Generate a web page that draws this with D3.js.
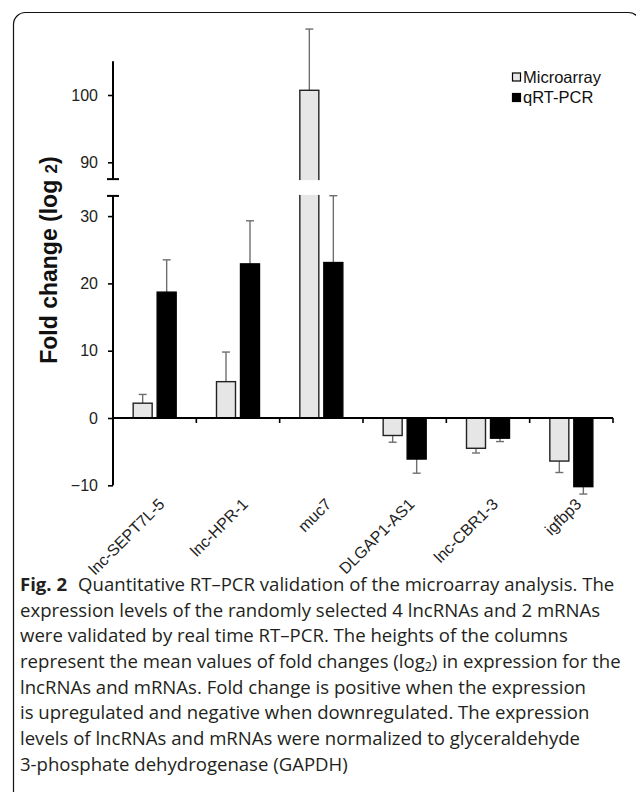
<!DOCTYPE html>
<html>
<head>
<meta charset="utf-8">
<script src="https://cdn.jsdelivr.net/npm/d3@7"></script>
<style>
  html, body { margin: 0; padding: 0; background: #fff; }
  svg { display: block; }
</style>
</head>
<body>
<div id="chart"></div>
<script>
const categories = ["lnc-SEPT7L-5", "lnc-HPR-1", "muc7", "DLGAP1-AS1", "lnc-CBR1-3", "igfbp3"];
const seriesNames = ["Microarray", "qRT-PCR"];
const microarray = [2.2, 5.4, 100.7, -2.6, -4.5, -6.4];
const microarrayErr = [1.3, 4.4, 9.1, 1.0, 0.7, 1.7];
const qrtpcr = [18.7, 22.9, 23.1, -6.1, -3.0, -10.2];
const qrtpcrErr = [4.8, 6.4, 10.5, 2.1, 0.5, 1.1];
const yTicks = [-10, 0, 10, 20, 30, 90, 100];
const lowerDomain = [-10, 33];
const upperDomain = [87.5, 105];

const captionLines = [
  "Quantitative RT\u2013PCR validation of the microarray analysis. The",
  "expression levels of the randomly selected 4 lncRNAs and 2 mRNAs",
  "were validated by real time RT\u2013PCR. The heights of the columns",
  "represent the mean values of fold changes (log|2|) in expression for the",
  "lncRNAs and mRNAs. Fold change is positive when the expression",
  "is upregulated and negative when downregulated. The expression",
  "levels of lncRNAs and mRNAs were normalized to glyceraldehyde",
  "3-phosphate dehydrogenase (GAPDH)",
];

const width = 636;
const height = 792;
const chartFont = "'Liberation Sans', Arial, sans-serif";

const svg = d3.select("#chart")
  .append("svg")
  .attr("width", width)
  .attr("height", height);

// frame with rounded top corners, open at the bottom
svg.append("rect")
  .attr("x", 13.5).attr("y", 12.5)
  .attr("width", 627).attr("height", 820)
  .attr("rx", 12)
  .attr("fill", "none")
  .attr("stroke", "#111")
  .attr("stroke-width", 1.2);

const left = 113;
const right = 613;
const unit = 6.73;
const zeroY = 418;
const upper100 = 95;

// broken axis: one piecewise scale, gap between the two segments
const y = d3.scaleLinear()
  .domain([lowerDomain[0], lowerDomain[1], upperDomain[0], upperDomain[1]])
  .range([
    zeroY - lowerDomain[0] * unit,
    zeroY - lowerDomain[1] * unit,
    upper100 + (100 - upperDomain[0]) * unit,
    upper100 - (upperDomain[1] - 100) * unit,
  ]);

const x = d3.scaleBand().domain(categories).range([left, right]).padding(0);
const inner = d3.scaleBand().domain(seriesNames).range([-21.5, 21.5]).paddingInner(0.2083);

const rows = categories.map((c, i) => ({
  cat: c,
  bars: [
    { key: "Microarray", value: microarray[i], err: microarrayErr[i] },
    { key: "qRT-PCR", value: qrtpcr[i], err: qrtpcrErr[i] },
  ],
}));

const groups = svg.append("g")
  .selectAll("g")
  .data(rows)
  .join("g")
  .attr("transform", (d) => `translate(${x(d.cat) + x.bandwidth() / 2},0)`);

const bars = groups.selectAll("g.bar")
  .data((d) => d.bars)
  .join("g")
  .attr("class", "bar");

const errEnd = (d) => y(d.value + Math.sign(d.value) * d.err);
const mid = (d) => inner(d.key) + inner.bandwidth() / 2;

// error bars (one side, away from zero)
bars.append("line")
  .attr("x1", mid).attr("x2", mid)
  .attr("y1", (d) => y(d.value))
  .attr("y2", errEnd)
  .attr("stroke", "#6f6f6f")
  .attr("stroke-width", 1.4);

bars.append("line")
  .attr("x1", (d) => mid(d) - 4)
  .attr("x2", (d) => mid(d) + 4)
  .attr("y1", errEnd)
  .attr("y2", errEnd)
  .attr("stroke", "#6f6f6f")
  .attr("stroke-width", 1.4);

bars.append("rect")
  .attr("x", (d) => inner(d.key))
  .attr("width", inner.bandwidth())
  .attr("y", (d) => y(Math.max(0, d.value)))
  .attr("height", (d) => Math.abs(y(d.value) - y(0)))
  .attr("fill", (d) => (d.key === "Microarray" ? "#e6e6e6" : "#000"))
  .attr("stroke", (d) => (d.key === "Microarray" ? "#222" : "#000"))
  .attr("stroke-width", 1.4);

// white gap across the break
svg.append("rect")
  .attr("x", left + 2)
  .attr("y", y(upperDomain[0]) + 1)
  .attr("width", right - left)
  .attr("height", y(lowerDomain[1]) - y(upperDomain[0]) - 2)
  .attr("fill", "#fff");

// y axis
const yAxis = svg.append("g")
  .attr("transform", `translate(${left},0)`)
  .call(d3.axisLeft(y).tickValues(yTicks).tickSize(5).tickPadding(10))
  .call((g) => g.select(".domain").remove());

yAxis.selectAll(".tick line").attr("stroke", "#000").attr("stroke-width", 1.6);
yAxis.selectAll("text")
  .attr("font-family", chartFont)
  .attr("font-size", 16)
  .attr("fill", "#222");

[lowerDomain, upperDomain].forEach((dom) => {
  yAxis.append("line")
    .attr("x1", 0).attr("x2", 0)
    .attr("y1", y(dom[0])).attr("y2", y(dom[1]))
    .attr("stroke", "#000").attr("stroke-width", 2);
});
[lowerDomain[1], upperDomain[0]].forEach((v) => {
  yAxis.append("line")
    .attr("x1", -6).attr("x2", 6)
    .attr("y1", y(v)).attr("y2", y(v))
    .attr("stroke", "#000").attr("stroke-width", 2);
});

// x axis at zero
const xAxis = svg.append("g")
  .attr("transform", `translate(0,${y(0)})`);

xAxis.append("line")
  .attr("x1", left).attr("x2", right)
  .attr("stroke", "#000").attr("stroke-width", 1.8);

xAxis.selectAll("line.tick")
  .data(categories)
  .join("line")
  .attr("class", "tick")
  .attr("x1", (d) => x(d) + x.bandwidth())
  .attr("x2", (d) => x(d) + x.bandwidth())
  .attr("y1", 0).attr("y2", 5)
  .attr("stroke", "#000").attr("stroke-width", 1.6);

svg.append("g")
  .selectAll("text")
  .data(categories)
  .join("text")
  .attr("transform", (d) => `translate(${x(d) + x.bandwidth() / 2 + 11},${y(-10) + 20}) rotate(-45)`)
  .attr("text-anchor", "end")
  .attr("font-family", chartFont)
  .attr("font-size", 16)
  .attr("fill", "#222")
  .text((d) => d);

// y title
const title = svg.append("text")
  .attr("transform", "translate(57,260) rotate(-90)")
  .attr("text-anchor", "middle")
  .attr("font-family", chartFont)
  .attr("font-size", 23)
  .attr("font-weight", "bold")
  .attr("fill", "#111");
title.append("tspan").text("Fold change (log ");
title.append("tspan").attr("font-size", 17).text("2");
title.append("tspan").text(")");

// legend
const legend = svg.append("g").attr("transform", "translate(512,0)");
seriesNames.forEach((name, i) => {
  const cy = 77 + i * 20.5;
  legend.append("rect")
    .attr("x", 0.5).attr("y", cy - 4)
    .attr("width", 8).attr("height", 8)
    .attr("fill", i === 0 ? "#e6e6e6" : "#000")
    .attr("stroke", "#000")
    .attr("stroke-width", 1.2);
  legend.append("text")
    .attr("x", 11).attr("y", cy)
    .attr("dy", "0.36em")
    .attr("font-family", chartFont)
    .attr("font-size", 16.5)
    .attr("fill", "#111")
    .text(name);
});

// caption
const caption = svg.append("g");
const captionFont = "'Open Sans', 'Noto Sans', sans-serif";
captionLines.forEach((line, i) => {
  const t = caption.append("text")
    .attr("x", 0)
    .attr("y", 591 + i * 25.7)
    .attr("font-family", captionFont)
    .attr("font-size", 18)
    .attr("fill", "#231f20");
  if (i === 0) {
    t.append("tspan").attr("font-weight", "bold").text("Fig. 2");
    t.append("tspan").attr("dx", 6).text(" " + line);
  } else {
    const parts = line.split("|");
    parts.forEach((p, j) => {
      const s = t.append("tspan").text(p);
      if (j === 1) s.attr("font-size", 12).attr("baseline-shift", "-3");
    });
  }
});
// squeeze caption horizontally so the longest line ends where it does in print
const longest = d3.max(caption.selectAll("text").nodes(), (n) => n.getComputedTextLength());
const sx = 601 / longest;
caption.attr("transform", `translate(20,0) scale(${sx},1)`);
</script>
</body>
</html>
